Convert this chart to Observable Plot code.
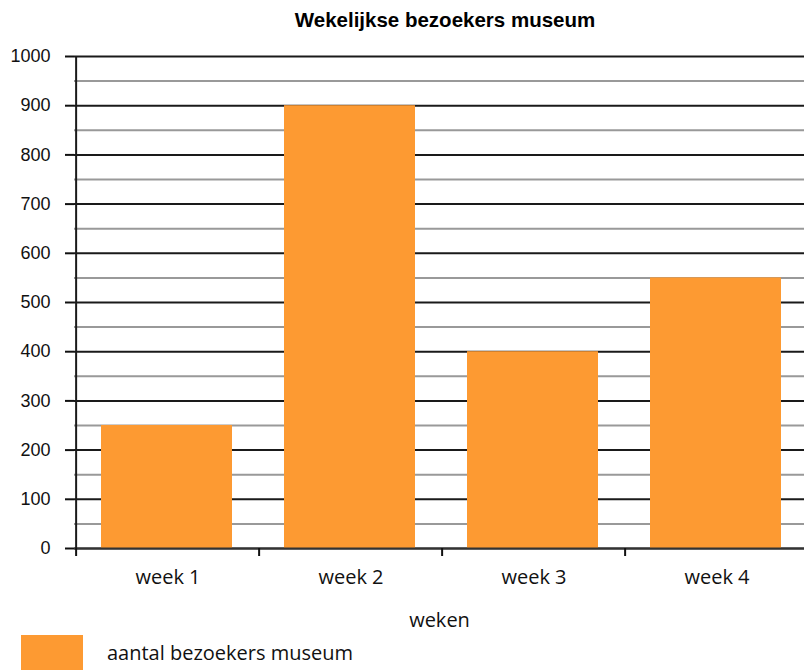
<!DOCTYPE html>
<html>
<head>
<meta charset="utf-8">
<script src="https://cdn.jsdelivr.net/npm/d3@7"></script>
<script src="https://cdn.jsdelivr.net/npm/@observablehq/plot@0.6"></script>
<style>
  body { margin: 0; background: #fff; }
  #wrap { position: relative; width: 804px; height: 670px; overflow: hidden; background: #fff; }
  #title { position: absolute; left: 0; top: 8px; width: 890px; text-align: center;
           font: bold 20.5px "Liberation Sans", Arial, sans-serif; color: #000; }
  #chart { position: absolute; left: 0; top: 40px; }
  #legend-swatch { position: absolute; left: 21px; top: 635px; width: 62px; height: 40px; background: #FD9A32; }
  #legend-text { position: absolute; left: 107px; top: 639px; font: 20px "Open Sans", sans-serif; color: #111; white-space: nowrap; }
</style>
</head>
<body>
<div id="wrap">
  <div id="title">Wekelijkse bezoekers museum</div>
  <div id="chart"></div>
  <div id="legend-swatch"></div>
  <div id="legend-text">aantal bezoekers museum</div>
</div>
<script>
const weeks = ["week 1", "week 2", "week 3", "week 4"];
const visitors = [250, 900, 400, 550];
const majorTicks = d3.range(0, 1001, 100);
const minorTicks = d3.range(50, 1000, 100);
const xAxisLabel = "weken";

const data = weeks.map((w, i) => ({week: w, visitors: visitors[i]}));
const xRange = [74, 809];
const bw = (xRange[1] - xRange[0]) / weeks.length;

const chart = Plot.plot({
  width: 804,
  height: 600,
  marginLeft: 74,
  marginRight: 0,
  marginTop: 16,
  marginBottom: 92,
  style: {fontFamily: "Liberation Sans, Arial, sans-serif", color: "#111", background: "transparent"},
  x: {type: "band", domain: weeks, range: xRange, padding: 0, label: null},
  y: {domain: [0, 1000], label: null},
  marks: [
    Plot.ruleY(minorTicks, {stroke: "#999", strokeWidth: 2}),
    Plot.ruleY(majorTicks, {stroke: "#1a1a1a", strokeWidth: 2}),
    Plot.barY(data, {x: "week", y: "visitors", fill: "#FD9A32", insetLeft: 25, insetRight: 27}),
    Plot.ruleY([0], {stroke: "#333", strokeWidth: 2}),
    Plot.ruleX([weeks[0]], {y1: 0, y2: 1000, dx: -bw / 2, stroke: "#1a1a1a", strokeWidth: 2}),
    Plot.axisY({ticks: majorTicks, tickSize: 9, tickPadding: 15, tickFormat: d => String(d),
                fontSize: 18, strokeWidth: 2, label: null}),
    Plot.axisX({tickSize: 8, tickFormat: () => "", dx: -bw / 2, strokeWidth: 2, label: null}),
    Plot.axisX({tickSize: 0, tickPadding: 21, fontSize: 20, fontFamily: "Open Sans, sans-serif",
                label: xAxisLabel, labelAnchor: "center", labelOffset: 78})
  ]
});
document.getElementById("chart").appendChild(chart);
</script>
</body>
</html>
